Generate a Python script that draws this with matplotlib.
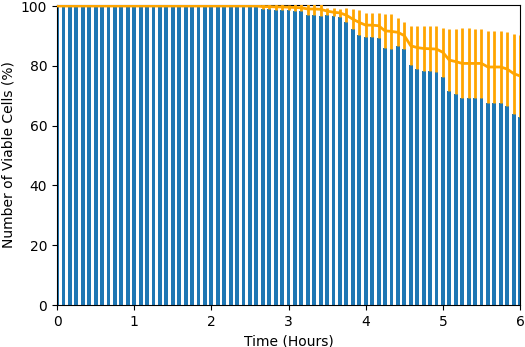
import numpy as np
import matplotlib
matplotlib.use("Agg")
from matplotlib import pyplot as plt

# time points every 5 minutes, 0..6 hours
time_hours = np.arange(73) / 12.0

# mean viable cells (%) - orange line
mean_viable = [100.0] * 32 + [
    99.8, 99.8, 99.7, 99.7, 99.6, 99.5, 99.4, 99.0, 99.0, 98.9,
    98.3, 97.9, 97.7, 96.9, 95.6, 94.5, 93.6, 93.6, 93.4, 91.7,
    91.5, 91.2, 90.1, 86.7, 86.1, 85.8, 85.7, 85.6, 84.5, 81.9,
    81.4, 80.8, 80.8, 80.8, 80.8, 79.6, 79.6, 79.6, 78.9, 77.4,
    76.6,
]

# error (std) - orange error bars
err_viable = [0.0] * 32 + [
    0.9, 0.9, 0.9, 0.9, 0.9, 1.2, 1.2, 2.0, 2.0, 2.1,
    1.2, 1.3, 1.4, 2.3, 3.4, 4.3, 3.9, 3.9, 4.1, 5.6,
    5.8, 4.7, 4.4, 6.5, 7.1, 7.4, 7.5, 7.6, 8.1, 10.4,
    10.9, 11.7, 11.7, 11.5, 11.5, 11.9, 11.9, 11.9, 12.3, 13.4,
    13.8,
]

# blue bars
bar_viable = [100.0] * 32 + [
    98.9, 98.9, 98.8, 98.8, 98.7, 98.3, 98.2, 97.0, 97.0, 96.8,
    97.1, 96.6, 96.3, 94.6, 92.2, 90.2, 89.7, 89.7, 89.3, 86.1,
    85.7, 86.5, 85.7, 80.2, 79.0, 78.4, 78.2, 78.0, 76.4, 71.5,
    70.5, 69.1, 69.1, 69.3, 69.3, 67.7, 67.7, 67.7, 66.6, 64.0,
    62.8,
]


def main():
    fig = plt.figure(figsize=(5.25, 3.47), dpi=100)
    ax = fig.add_axes([0.1086, 0.121, 0.882, 0.866])

    ax.bar(time_hours, bar_viable, width=0.05, color='#1f77b4', zorder=1)
    ax.errorbar(time_hours, mean_viable, yerr=err_viable,
                color='orange', ecolor='orange', linewidth=2,
                elinewidth=2, capsize=0, zorder=3)

    ax.set_xlim(0, 6)
    ax.set_ylim(0, 100.5)
    ax.set_yticks([0, 20, 40, 60, 80, 100])
    ax.set_xlabel('Time (Hours)')
    ax.set_ylabel('Number of Viable Cells (%)')

    fig.savefig('out.png', dpi=100)


if __name__ == '__main__':
    main()
